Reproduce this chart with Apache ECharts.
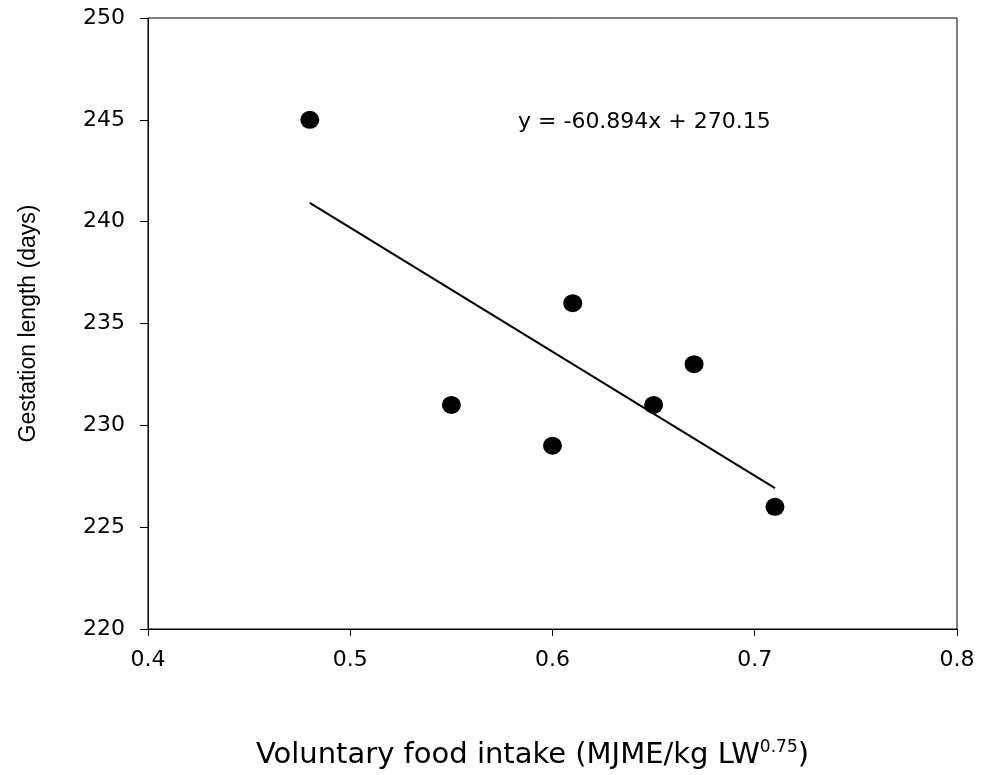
<!DOCTYPE html>
<html>
<head>
<meta charset="utf-8">
<script src="https://cdn.jsdelivr.net/npm/echarts@6/dist/echarts.min.js"></script>
<style>
  html, body { margin: 0; padding: 0; background: #fff; }
  #chart { width: 986px; height: 775px; }
</style>
</head>
<body>
<div id="chart"></div>
<script>
// values
var intake = [0.48, 0.55, 0.60, 0.61, 0.65, 0.67, 0.71];
var gestation = [245, 231, 229, 236, 231, 233, 226];

// trend line as printed on the chart
var slope = -60.894;
var intercept = 270.15;
var trendX = [0.48, 0.71];

var chart = echarts.init(document.getElementById('chart'));

var points = intake.map(function (x, i) { return [x, gestation[i]]; });
var trend = trendX.map(function (x) { return [x, slope * x + intercept]; });

var wide = '"DejaVu Sans", sans-serif';
var narrow = '"Liberation Sans", Arial, sans-serif';

chart.setOption({
    animation: false,
    grid: {
        left: 148,
        right: 29,
        top: 18,
        bottom: 146,
        show: true,
        borderColor: '#000',
        borderWidth: 1
    },
    xAxis: {
        type: 'value',
        min: 0.4,
        max: 0.8,
        interval: 0.1,
        name: '{n|Voluntary food intake (MJME/kg LW}{s|0.75}{n|)}',
        nameLocation: 'middle',
        nameGap: 110,
        nameTextStyle: {
            padding: [0, 40, 0, 0],
            rich: {
                n: { fontFamily: wide, fontSize: 29, color: '#000' },
                s: { fontFamily: wide, fontSize: 17, color: '#000', verticalAlign: 'top', padding: [0, 0, 15, 0] }
            }
        },
        axisLine: { lineStyle: { color: '#000', width: 1 } },
        axisTick: { show: true, inside: false, length: 7, lineStyle: { color: '#000' } },
        axisLabel: {
            color: '#000',
            fontFamily: wide,
            fontSize: 22,
            margin: 20,
            formatter: function (v) { return v.toFixed(1); }
        },
        splitLine: { show: false }
    },
    yAxis: {
        type: 'value',
        min: 220,
        max: 250,
        interval: 5,
        name: 'Gestation length (days)',
        nameLocation: 'middle',
        nameGap: 108,
        nameTextStyle: { color: '#000', fontFamily: narrow, fontSize: 23 },
        axisLine: { show: true, lineStyle: { color: '#000', width: 1 } },
        axisTick: { show: true, inside: false, length: 8, lineStyle: { color: '#000' } },
        axisLabel: { color: '#000', fontFamily: wide, fontSize: 22, margin: 23 },
        splitLine: { show: false }
    },
    series: [
        {
            type: 'line',
            data: trend,
            symbol: 'none',
            lineStyle: { color: '#000', width: 2 },
            z: 2
        },
        {
            type: 'scatter',
            data: points,
            symbol: 'circle',
            symbolSize: [19, 18],
            itemStyle: { color: '#000', opacity: 1 },
            z: 3
        }
    ],
    graphic: [
        {
            type: 'text',
            x: 518,
            y: 122,
            style: {
                text: 'y = -60.894x + 270.15',
                fill: '#000',
                font: '22px "DejaVu Sans", sans-serif',
                verticalAlign: 'middle'
            }
        }
    ]
});
</script>
</body>
</html>
